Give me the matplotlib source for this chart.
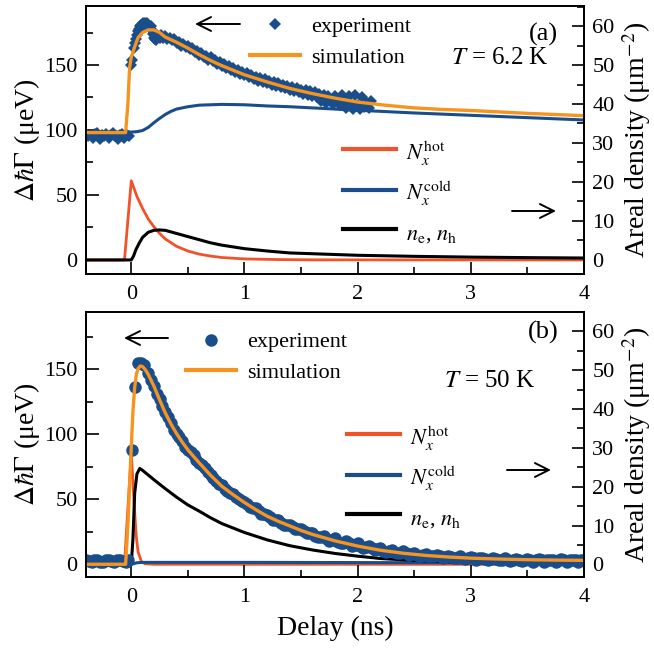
import matplotlib
matplotlib.use('Agg')
import matplotlib.pyplot as plt
from matplotlib.lines import Line2D

plt.rcParams['font.family'] = ['Liberation Serif', 'DejaVu Serif']
plt.rcParams['mathtext.fontset'] = 'stix'
plt.rcParams['xtick.direction'] = 'in'
plt.rcParams['ytick.direction'] = 'in'

BLUE = '#1a4d8c'
ORANGE = '#f7941d'
RED = '#f0522a'
BLACK = '#000000'

# ---------------- panel (a): T = 6.2 K ----------------
a_exp_t = [-0.40, -0.38, -0.36, -0.34, -0.32, -0.30, -0.28, -0.26, -0.24, -0.22,
           -0.20, -0.18, -0.16, -0.14, -0.12, -0.10, -0.08, -0.06, -0.04, -0.02,
           0.00, 0.01, 0.02, 0.03, 0.04, 0.05, 0.06, 0.07, 0.08, 0.09, 0.10, 0.11, 0.12,
           0.13, 0.14, 0.15, 0.16, 0.17, 0.18, 0.19, 0.20, 0.21, 0.22, 0.23, 0.24, 0.25,
           0.26, 0.28,
           0.30, 0.32, 0.34, 0.36, 0.38, 0.40, 0.42, 0.44, 0.46, 0.48, 0.50, 0.52, 0.54,
           0.56, 0.58, 0.60, 0.62, 0.64, 0.66, 0.68, 0.70, 0.72, 0.74, 0.76, 0.78, 0.80,
           0.82, 0.84, 0.86, 0.88, 0.90, 0.92, 0.94, 0.96, 0.98, 1.00, 1.02, 1.04, 1.06,
           1.08, 1.10, 1.12, 1.14, 1.16, 1.18, 1.20, 1.22, 1.24, 1.26, 1.28, 1.30, 1.32,
           1.34, 1.36, 1.38, 1.40, 1.42, 1.44, 1.46, 1.48, 1.50, 1.52, 1.54, 1.56, 1.58,
           1.60, 1.62, 1.64, 1.66, 1.68, 1.70, 1.72, 1.74, 1.76, 1.78, 1.80, 1.82, 1.84,
           1.86, 1.88, 1.90, 1.92, 1.94, 1.96, 1.98, 2.00, 2.02, 2.04, 2.06, 2.08, 2.10,
           2.12]
a_exp_v = [97, 95, 96, 94, 97, 98, 93, 96, 95, 97,
           94, 96, 98, 95, 93, 96, 97, 94, 96, 95,
           150, 154, 163, 167, 170, 173, 176, 178, 180, 181, 182, 181, 182,
           180, 182, 181, 179, 180, 177, 174, 171, 170, 169, 171, 172, 171,
           173, 171,
           172, 170, 171, 169, 170, 167, 168, 165, 166, 164, 165, 162, 163,
           160, 161, 158, 159, 156, 157, 154, 156, 153, 154, 151, 152, 149,
           151, 148, 149, 146, 148, 145, 146, 143, 145, 142, 144, 141, 142,
           139, 141, 138, 140, 137, 139, 136, 138, 135, 137, 134, 136, 133,
           135, 132, 134, 131, 133, 130, 132, 129, 131, 128, 131, 127, 130,
           126, 129, 125, 128, 122, 127, 121, 126, 123, 120, 126, 122, 119,
           127, 121, 117, 126, 120, 116, 127, 119, 116, 125, 118, 121, 117,
           122]

a_sim_t = [-0.40, -0.05, -0.03, -0.015, 0.0, 0.03, 0.06, 0.10, 0.15, 0.20, 0.25, 0.30,
           0.40, 0.50, 0.60, 0.70, 0.80, 0.90, 1.00, 1.20, 1.40, 1.60, 1.80, 2.00, 2.25,
           2.50, 2.75, 3.00, 3.50, 4.00]
a_sim_v = [98, 98, 120, 148, 156, 164, 171, 175, 177, 177, 175, 171.5,
           167.5, 163, 158, 153.5, 149.5, 146, 142.5, 137, 132, 128, 124.5, 121.5, 119,
           117, 115.8, 115, 112.8, 111]

# densities (right axis, um^-2)
a_cold_t = [-0.40, 0.00, 0.05, 0.10, 0.15, 0.20, 0.25, 0.30, 0.35, 0.40, 0.50, 0.60, 0.70,
            0.80, 1.00, 1.20, 1.40, 1.60, 1.80, 2.00, 2.50, 3.00, 3.50, 4.00]
a_cold_v = [32.8, 32.8, 32.9, 33.2, 34.0, 35.2, 36.3, 37.3, 38.1, 38.7, 39.3, 39.7, 39.8,
            39.9, 39.8, 39.5, 39.3, 39.0, 38.7, 38.4, 37.7, 37.1, 36.5, 35.9]

a_hot_t = [-0.40, -0.06, 0.00, 0.05, 0.10, 0.15, 0.20, 0.25, 0.30, 0.40, 0.50, 0.60, 0.70,
           0.80, 1.00, 1.30, 1.60, 4.00]
a_hot_v = [0, 0, 20.3, 16.3, 13.2, 10.5, 8.5, 6.8, 5.4, 3.5, 2.3, 1.5, 1.0,
           0.63, 0.27, 0.1, 0.03, 0]

a_eh_t = [-0.40, 0.00, 0.02, 0.04, 0.07, 0.10, 0.15, 0.20, 0.25, 0.30, 0.40, 0.50, 0.60,
          0.70, 0.80, 1.00, 1.20, 1.40, 1.60, 1.80, 2.00, 2.50, 3.00, 3.50, 4.00]
a_eh_v = [0, 0, 1.0, 2.6, 4.3, 5.8, 7.1, 7.6, 7.7, 7.6, 6.8, 6.0, 5.2,
          4.4, 3.8, 2.9, 2.3, 1.8, 1.6, 1.4, 1.2, 0.93, 0.73, 0.6, 0.5]

# ---------------- panel (b): T = 50 K ----------------
b_exp_t = [-0.40, -0.375, -0.35, -0.325, -0.30, -0.275, -0.25, -0.225, -0.20, -0.175,
           -0.15, -0.125, -0.10, -0.075, -0.05, -0.025,
           0.005, 0.035, 0.06, 0.085, 0.11,
           0.15, 0.20, 0.25, 0.30, 0.35, 0.40, 0.45, 0.50, 0.55, 0.60, 0.65, 0.70, 0.75,
           0.80, 0.85, 0.90, 0.95, 1.00, 1.05, 1.10, 1.15, 1.20, 1.25, 1.30, 1.35, 1.40,
           1.45, 1.50, 1.55, 1.60, 1.65, 1.70, 1.75, 1.80, 1.85, 1.90, 1.95, 2.00, 2.05,
           2.10, 2.15, 2.20, 2.25, 2.30, 2.35, 2.40, 2.45, 2.50, 2.55, 2.60, 2.65, 2.70,
           2.75, 2.80, 2.85, 2.90, 2.95, 3.00, 3.05, 3.10, 3.15, 3.20, 3.25, 3.30, 3.35,
           3.40, 3.45, 3.50, 3.55, 3.60, 3.65, 3.70, 3.75, 3.80, 3.85, 3.90, 3.95, 4.00]
b_exp_v = [3, 2.5, 2, 3, 3.5, 2, 1.5, 3, 3, 2.5, 2, 3, 3.5, 2.5, 2, 3,
           88, 136, 155, 155, 153,
           147, 137, 127, 117, 109, 100, 95, 88, 84, 78, 74, 69, 64,
           61, 56, 54, 50, 48, 44, 43, 39, 38, 34, 34, 30, 30,
           27, 27, 24, 24, 21, 22, 18, 20, 16, 18, 14, 16, 12.5,
           14, 11, 12.5, 9.5, 11, 8.5, 10, 7.5, 9, 6.5, 8, 6, 7.5,
           5, 6.5, 4.5, 6, 4, 5.5, 3.5, 5, 3, 4.5, 3, 4.5, 2.5,
           4, 2.5, 4, 2, 4, 2, 3.5, 2, 4, 1.5, 3.5, 2, 3.5]

b_exp_t_mid = [0.175, 0.225, 0.275, 0.325, 0.375, 0.425, 0.475, 0.525, 0.575, 0.625,
               0.675, 0.725, 0.775, 0.825, 0.875, 0.925, 0.975, 1.025, 1.075, 1.125,
               1.175, 1.225, 1.275, 1.325, 1.375, 1.425, 1.475, 1.525, 1.575, 1.625,
               1.675, 1.725, 1.775, 1.825, 1.875, 1.925, 1.975, 2.025, 2.075, 2.125,
               2.175, 2.225, 2.275, 2.325, 2.375, 2.425, 2.475, 2.525, 2.575, 2.625,
               2.675, 2.725, 2.775, 2.825, 2.875, 2.925, 2.975, 3.025, 3.075, 3.125,
               3.175, 3.225, 3.275, 3.325, 3.375, 3.425, 3.475, 3.525, 3.575, 3.625,
               3.675, 3.725, 3.775, 3.825, 3.875, 3.925, 3.975]
b_exp_v_mid = [142, 131, 122, 113, 103, 98, 90, 86, 80, 76,
               71, 66, 62, 58, 55, 52, 49, 46, 43, 41,
               38.5, 36, 34, 32, 30.5, 29, 27, 25.5, 24, 22,
               21, 19.5, 18.5, 17.5, 16.5, 16, 14.5, 14, 13, 12.5,
               11.5, 10.5, 10, 9.5, 9, 8.5, 8, 7.5, 7, 6.5,
               6.5, 6, 5.5, 5.5, 5, 5, 4.5, 4.5, 4.5, 4,
               4, 4, 3.5, 3.5, 3.5, 3.5, 3.5, 3, 3, 3,
               3, 3, 3, 3, 3, 3, 3]

b_sim_t = [-0.40, -0.05, -0.03, -0.01, 0.0, 0.015, 0.03, 0.045, 0.06, 0.08, 0.10, 0.125,
           0.15, 0.20, 0.25, 0.30, 0.35, 0.40, 0.45, 0.50, 0.60, 0.70, 0.80, 0.90, 1.00,
           1.10, 1.20, 1.30, 1.40, 1.50, 1.60, 1.70, 1.80, 1.90, 2.00, 2.20, 2.40, 2.60,
           2.80, 3.00, 3.25, 3.50, 3.75, 4.00]
b_sim_v = [0, 0, 30, 70, 90, 118, 136, 146, 150.5, 152.5, 152, 149.5,
           146, 137, 126.5, 116.5, 108, 100.5, 94, 88, 78, 68.5, 60, 53.5, 47.5,
           42, 37, 33, 29.5, 26, 23, 20.5, 18, 16, 14, 10.8, 8.5, 6.8,
           5.6, 4.7, 4.0, 3.5, 3.2, 3.0]

b_cold_t = [-0.40, 0.00, 0.05, 0.10, 1.00, 2.00, 3.00, 4.00]
b_cold_v = [0, 0, 0.4, 0.5, 0.5, 0.45, 0.4, 0.35]

b_hot_t = [-0.40, -0.06, 0.00, 0.03, 0.045, 0.06, 0.09, 0.12, 0.20, 4.00]
b_hot_v = [0, 0, 28.7, 13.3, 7.0, 3.2, 0.7, 0.15, 0, 0]

b_eh_t = [-0.40, 0.00, 0.015, 0.03, 0.05, 0.075, 0.10, 0.15, 0.20, 0.30, 0.40, 0.50,
          0.60, 0.70, 0.80, 1.00, 1.20, 1.40, 1.60, 1.80, 2.00, 2.20, 2.50, 3.00, 3.50, 4.00]
b_eh_v = [0, 0, 6.7, 18.3, 23.3, 24.7, 24.2, 23.0, 21.8, 19.5, 17.3, 15.3,
          13.7, 12.0, 10.5, 8.2, 6.3, 4.8, 3.7, 2.8, 2.1, 1.5, 1.0, 0.47, 0.27, 0.17]

x_ticks = [0, 1, 2, 3, 4]
left_ticks = [0, 50, 100, 150]
right_ticks = [0, 10, 20, 30, 40, 50, 60]

W, H = 654, 652
fig = plt.figure(figsize=(W / 100, H / 100), dpi=100)


def fx(px):
    return px / W


def fy(py):
    return 1 - py / H


def style_axes(ax, ax2):
    ax.set_xlim(-0.4, 4)
    ax.set_xticks(x_ticks)
    ax.set_xticks([0.5, 1.5, 2.5, 3.5], minor=True)
    ax.set_yticks(left_ticks)
    ax.set_yticks([25, 75, 125, 175], minor=True)
    ax2.set_yticks(right_ticks)
    ax2.set_yticks([5, 15, 25, 35, 45, 55, 65], minor=True)
    for a in (ax, ax2):
        a.tick_params(which='major', length=9, width=1.2, labelsize=16)
        a.tick_params(which='minor', length=5, width=1.2)
        for s in a.spines.values():
            s.set_linewidth(1.3)
    ax.tick_params(axis='x', which='both', top=False, pad=8)
    ax.tick_params(axis='y', which='both', right=False, pad=6)
    ax2.tick_params(axis='y', which='both', left=False, pad=6)
    ax.set_ylabel(r'$\Delta\hbar\Gamma$ (μeV)', fontsize=20, labelpad=2)
    ax2.set_ylabel(r'Areal density (μm$^{-2}$)', fontsize=20, labelpad=4)
    ax.set_zorder(ax2.get_zorder() + 1)
    ax.patch.set_visible(False)


def arrow(x0, x1, y):
    fig.add_artist(matplotlib.patches.FancyArrowPatch(
        (fx(x0), fy(y)), (fx(x1), fy(y)), transform=fig.transFigure,
        arrowstyle='->,head_length=0.5,head_width=0.25', mutation_scale=20,
        lw=1.4, color='k', shrinkA=0, shrinkB=0))


def legends(ax, ax2, marker, ms, l1_anchor, l2_anchor):
    h1 = [Line2D([], [], ls='none', marker=marker, ms=ms, color=BLUE, mew=0),
          Line2D([], [], color=ORANGE, lw=3)]
    ax.legend(h1, ['experiment', 'simulation'], loc='upper left',
              bbox_to_anchor=l1_anchor, frameon=False, fontsize=16,
              handlelength=2.25, handletextpad=0.5, labelspacing=0.45,
              borderpad=0, borderaxespad=0)
    h2 = [Line2D([], [], color=RED, lw=3), Line2D([], [], color=BLUE, lw=3),
          Line2D([], [], color=BLACK, lw=3)]
    ax2.legend(h2, [r'$N_x^{\rm hot}$', r'$N_x^{\rm cold}$', r'$n_{\rm e}$, $n_{\rm h}$'],
               loc='upper left', bbox_to_anchor=l2_anchor, frameon=False, fontsize=16,
               handlelength=2.4, handletextpad=0.45, labelspacing=0.5,
               handleheight=1.45, borderpad=0, borderaxespad=0)


# panel (a)
axa = fig.add_axes([fx(86), fy(274), fx(584) - fx(86), fy(6) - fy(274)])
axa2 = axa.twinx()
axa2.plot(a_hot_t, a_hot_v, color=RED, lw=2.0)
axa2.plot(a_cold_t, a_cold_v, color=BLUE, lw=2.2)
axa2.plot(a_eh_t, a_eh_v, color=BLACK, lw=2.2)
axa.plot(a_exp_t, a_exp_v, ls='none', marker='D', ms=6.5, mew=0, color=BLUE)
axa.plot(a_sim_t, a_sim_v, color=ORANGE, lw=2.4)
axa.set_ylim(-10.8, 195.4)
axa2.set_ylim(-10.8 / 3, 195.4 / 3)
style_axes(axa, axa2)
legends(axa, axa2, 'D', 6.5, (0.33, 0.96), (0.516, 0.503))

# panel (b)
axb = fig.add_axes([fx(86), fy(577), fx(584) - fx(86), fy(312) - fy(577)])
axb2 = axb.twinx()
axb2.plot(b_hot_t, b_hot_v, color=RED, lw=2.0)
axb2.plot(b_cold_t, b_cold_v, color=BLUE, lw=2.2)
axb.plot(b_exp_t, b_exp_v, ls='none', marker='o', ms=9, mew=0, color=BLUE)
axb.plot(b_exp_t_mid, b_exp_v_mid, ls='none', marker='o', ms=9, mew=0, color=BLUE)
axb.plot(b_sim_t, b_sim_v, color=ORANGE, lw=2.4)
axb2.plot(b_eh_t, b_eh_v, color=BLACK, lw=2.2)
axb.set_ylim(-9.8, 194)
axb2.set_ylim(-9.8 / 3, 194 / 3)
style_axes(axb, axb2)
axb.set_xlabel('Delay (ns)', fontsize=20, labelpad=6)
legends(axb, axb2, 'o', 9, (0.2, 0.925), (0.524, 0.577))

# arrows and annotations
arrow(240, 195, 24)
arrow(512, 556, 211)
arrow(168, 124, 338)
arrow(507, 551, 470)
fig.text(fx(543), fy(34), '(a)', fontsize=19, ha='center', va='center')
fig.text(fx(500), fy(58), r'$T$ = 6.2 K', fontsize=18, ha='center', va='center')
fig.text(fx(543), fy(332), '(b)', fontsize=19, ha='center', va='center')
fig.text(fx(490), fy(381), r'$T$ = 50 K', fontsize=18, ha='center', va='center')

fig.savefig('out.png', dpi=100)
